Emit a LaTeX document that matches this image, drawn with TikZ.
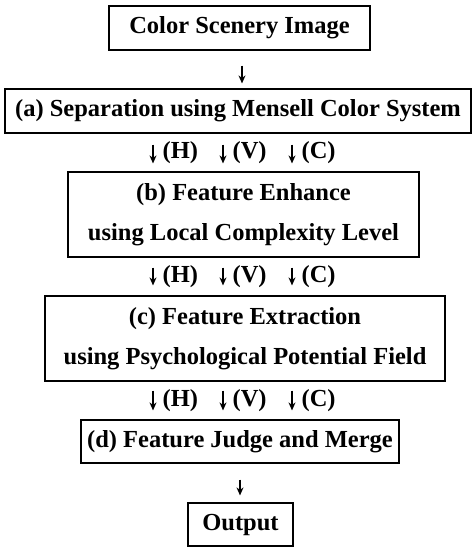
\documentclass[tikz,border=0pt]{standalone}
\usepackage{fontspec}
\setmainfont{Liberation Serif}
\usetikzlibrary{arrows.meta}
\begin{document}
\begin{tikzpicture}[x=1pt,y=-1pt,
  box/.style={draw,line width=1.2pt,inner sep=0pt,align=center,
    font=\fontsize{24.5}{40}\selectfont\bfseries},
  flow/.style={-{Stealth[length=8pt,width=7pt]},line width=1.2pt},
  tag/.style={font=\fontsize{24.5}{28}\selectfont\bfseries,inner sep=0pt,right=9pt}]
\useasboundingbox (0,0) rectangle (472,547);

% processing stages
\node[box,minimum width=261pt,minimum height=44pt] (img) at (239.5,28) {Color Scenery Image};
\node[box,minimum width=466pt,minimum height=44pt] (sep) at (238,111)
  {(a) Separation using Mensell Color System};
\node[box,minimum width=351pt,minimum height=85pt] (enh) at (243.5,214.5)
  {(b) Feature Enhance\\using Local Complexity Level};
\node[box,minimum width=400pt,minimum height=85pt] (ext) at (245,338.5)
  {(c) Feature Extraction\\using Psychological Potential Field};
\node[box,minimum width=318pt,minimum height=43pt] (jdg) at (240,441.5)
  {(d) Feature Judge and Merge};
\node[box,minimum width=105pt,minimum height=43pt] (out) at (240.5,524.5) {Output};

% x positions of the three channels
\coordinate (cH) at (153,0);
\coordinate (cV) at (223,0);
\coordinate (cC) at (292,0);

% single flows
\draw[flow,shorten <=15pt,shorten >=5pt] (img.south -| 242,0) -- (sep.north -| 242,0);
\draw[flow,shorten <=16pt,shorten >=7pt] (jdg.south -| 240,0) -- (out.north -| 240,0);

% H, V, C channels between the stages
\foreach \ch/\lab in {cH/(H),cV/(V),cC/(C)} {
  \draw[flow,shorten <=11pt,shorten >=8pt] (sep.south -| \ch) -- node[tag] {\lab} (enh.north -| \ch);
  \draw[flow,shorten <=10pt,shorten >=10pt] (enh.south -| \ch) -- node[tag] {\lab} (ext.north -| \ch);
  \draw[flow,shorten <=9pt,shorten >=9pt] (ext.south -| \ch) -- node[tag] {\lab} (jdg.north -| \ch);
}
\end{tikzpicture}
\end{document}
